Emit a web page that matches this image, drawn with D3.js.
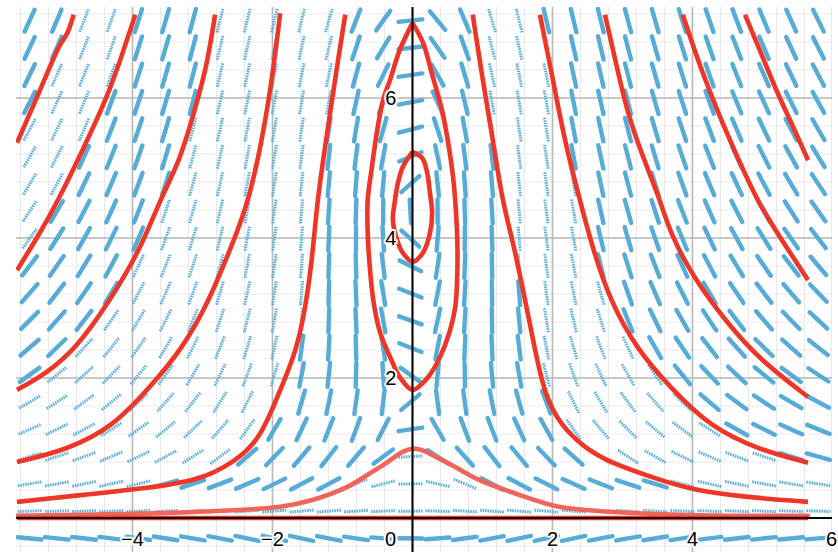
<!DOCTYPE html>
<html><head><meta charset="utf-8">
<script src="https://cdn.jsdelivr.net/npm/d3@7"></script>
<style>html,body{margin:0;padding:0;background:#fff;}svg{display:block}</style>
</head><body>
<svg id="chart" width="838" height="552"></svg>
<script>
// ---------- data ----------
const xTicks = [-4, -2, 0, 2, 4, 6];
const yTicks = [2, 4, 6];
const xDomain = [-5.664, 5.993];
const yDomain = [-0.486, 7.3];
const minorStep = 0.4;

// direction field dy/dx = -x*y / (kA*(y-saddleY)*(y-centerY) + kB*|x|^powerX)
const fieldCols = 30, fieldRows = 20;
const centerY = 4.4, saddleY = 1.8, kA = 1 / 6.8, kB = 1 / 4.5, powerX = 2.5;

// solution curves (data units)
const lensBig = [[0,7.07],[-0.18,6.69],[-0.32,6.26],[-0.42,5.97],[-0.51,5.5],[-0.58,5.01],[-0.64,4.54],[-0.64,4.07],[-0.61,3.59],[-0.56,3.11],[-0.46,2.64],[-0.32,2.3],[-0.18,2.01],[0,1.83],[0.15,1.93],[0.32,2.16],[0.49,2.54],[0.61,3.01],[0.64,3.5],[0.64,3.97],[0.61,4.54],[0.58,4.87],[0.51,5.36],[0.42,5.83],[0.29,6.3],[0.15,6.79],[0,7.07]];
const lensSmall = [[0,5.23],[-0.14,5.01],[-0.22,4.73],[-0.25,4.54],[-0.28,4.26],[-0.22,3.97],[-0.14,3.79],[0,3.66],[0.15,3.79],[0.25,4.07],[0.28,4.36],[0.25,4.64],[0.21,4.93],[0.14,5.14],[0,5.23]];
const curveA = [[0.86,7.19],[1.01,6.21],[1.15,5.4],[1.28,4.54],[1.44,3.93],[1.61,3.11],[1.75,2.4],[1.89,1.76],[2.11,1.33],[2.46,1.0],[2.82,0.79],[3.54,0.54],[4.01,0.4],[4.72,0.3],[5.65,0.23]];
const curveAL = [[-0.96,7.19],[-1.08,6.44],[-1.22,5.5],[-1.36,4.54],[-1.42,3.83],[-1.51,3.11],[-1.65,2.4],[-1.89,1.83],[-2.18,1.11],[-2.56,0.79],[-3.04,0.54],[-3.75,0.43],[-4.71,0.33],[-5.65,0.23]];
const curveR1 = [[1.82,7.19],[2.0,6.3],[2.17,5.4],[2.39,4.54],[2.58,3.83],[2.82,3.11],[3.21,2.4],[3.68,1.87],[4.25,1.3],[4.96,0.97],[5.65,0.79]];
const curveR2 = [[2.75,7.19],[2.92,6.44],[3.06,5.83],[3.25,5.26],[3.54,4.54],[3.68,4.07],[4.01,3.44],[4.49,2.79],[4.96,2.26],[5.65,1.73]];
const curveR3 = [[3.86,7.19],[4.11,6.44],[4.39,5.73],[4.64,5.16],[4.92,4.54],[5.21,4.07],[5.65,3.4]];
const curveR4 = [[4.75,7.19],[4.96,6.69],[5.21,6.07],[5.44,5.59],[5.65,5.11]];
const curveL1 = [[-1.89,7.21],[-2.04,5.97],[-2.32,4.54],[-2.61,3.83],[-2.9,3.11],[-3.3,2.4],[-3.75,1.87],[-4.28,1.3],[-4.94,0.97],[-5.65,0.8]];
const curveL2 = [[-2.82,7.19],[-2.94,6.44],[-3.11,5.83],[-3.32,5.11],[-3.61,4.54],[-3.89,3.83],[-4.32,3.11],[-4.79,2.44],[-5.22,2.07],[-5.65,1.83]];
const curveL3 = [[-3.96,7.19],[-4.14,6.64],[-4.36,6.01],[-4.71,5.26],[-5.06,4.54],[-5.32,4.07],[-5.65,3.54]];
const curveL4 = [[-4.84,7.19],[-4.94,6.87],[-5.02,6.83],[-5.32,6.11],[-5.65,5.36]];
const bump = [[-5.65,0.03],[-3.99,0.06],[-3.04,0.09],[-1.89,0.16],[-1.42,0.26],[-0.94,0.44],[-0.46,0.73],[0,0.99],[0.49,0.79],[0.96,0.54],[1.44,0.36],[2.09,0.16],[2.82,0.09],[4.11,0.04],[5.65,0.03]];
const zeroLine = [[-5.65,0],[5.65,0]];

// ---------- setup ----------
const svg = d3.select('#chart');
const plot = {left: 16, right: 832, top: 7, bottom: 552};
const x = d3.scaleLinear().domain(xDomain).range([plot.left, plot.right]);
const y = d3.scaleLinear().domain(yDomain).range([plot.bottom, plot.top]);

svg.append('defs').append('clipPath').attr('id', 'clip')
  .append('rect').attr('x', plot.left).attr('y', plot.top)
  .attr('width', plot.right - plot.left).attr('height', plot.bottom - plot.top);
const g = svg.append('g').attr('clip-path', 'url(#clip)');

// grid
const minorX = d3.range(Math.ceil(xDomain[0] / minorStep) * minorStep, xDomain[1], minorStep);
const minorY = d3.range(Math.ceil(yDomain[0] / minorStep) * minorStep, yDomain[1], minorStep);
g.selectAll('.mx').data(minorX).join('line')
  .attr('x1', d => x(d)).attr('x2', d => x(d)).attr('y1', plot.top).attr('y2', plot.bottom)
  .attr('stroke', '#e9e9e9').attr('stroke-width', 1.2);
g.selectAll('.my').data(minorY).join('line')
  .attr('y1', d => y(d)).attr('y2', d => y(d)).attr('x1', plot.left).attr('x2', plot.right)
  .attr('stroke', '#e9e9e9').attr('stroke-width', 1.2);
const majorX = d3.range(-4, 6.01, 2), majorY = d3.range(2, 7.01, 2);
g.selectAll('.Mx').data(majorX).join('line')
  .attr('x1', d => x(d)).attr('x2', d => x(d)).attr('y1', plot.top).attr('y2', plot.bottom)
  .attr('stroke', '#b9b9b9').attr('stroke-width', 1.6);
g.selectAll('.My').data(majorY).join('line')
  .attr('y1', d => y(d)).attr('y2', d => y(d)).attr('x1', plot.left).attr('x2', plot.right)
  .attr('stroke', '#b9b9b9').attr('stroke-width', 1.6);

// helpers for region classification (thick vs dotted rendering)
function xAtY(curve, yy, below) {
  const ys = curve.map(p => p[1]);
  const maxY = d3.max(ys), minY = d3.min(ys);
  if (yy >= maxY) { const top = curve.reduce((a, b) => (b[1] > a[1] ? b : a)); return top[0]; }
  if (yy <= minY) return below;
  for (let i = 0; i < curve.length - 1; i++) {
    const a = curve[i], b = curve[i + 1];
    if ((yy - a[1]) * (yy - b[1]) <= 0 && a[1] !== b[1]) {
      const t = (yy - a[1]) / (b[1] - a[1]);
      return a[0] + t * (b[0] - a[0]);
    }
  }
  return below;
}
function bumpY(xx) {
  for (let i = 0; i < bump.length - 1; i++) {
    const a = bump[i], b = bump[i + 1];
    if (xx >= a[0] && xx <= b[0]) return a[1] + (xx - a[0]) / (b[0] - a[0]) * (b[1] - a[1]);
  }
  return 0;
}
function isDotted(xx, yy) {
  if (yy > 0 && yy < 0.2) return true;
  if (yy > 0 && Math.abs(xx) < 2.5 && yy < bumpY(xx)) return true;
  if (xx < 0) {
    const xal = xAtY(curveAL, yy, -Infinity), xl2 = xAtY(curveL2, yy, -Infinity);
    const xl3 = xAtY(curveL3, yy, -Infinity), xl4 = xAtY(curveL4, yy, -Infinity);
    if (xx < xal && xx > xl2 && yy > 0) {
      if (yy < 0.7 && xx > -3.9) return false;
      return true;
    }
    if (xx < xl3 && xx > xl4) return true;
  } else {
    const xa = xAtY(curveA, yy, Infinity), xr1 = xAtY(curveR1, yy, Infinity);
    if (xx > xa && xx < xr1 && yy > 0) return true;
  }
  return false;
}

// direction field
const cellW = (xDomain[1] - xDomain[0]) / fieldCols;
const cellH = (yDomain[1] - yDomain[0]) / fieldRows;
const pts = [];
for (let i = 0; i < fieldCols; i++) {
  for (let j = 0; j < fieldRows; j++) {
    const xx = xDomain[0] + (i + 0.5) * cellW;
    const yy = yDomain[1] - (j + 0.5) * cellH;
    const Q = -xx * yy;
    const P = kA * (yy - saddleY) * (yy - centerY) + kB * Math.pow(Math.abs(xx), powerX);
    pts.push({xx, yy, P, Q, dotted: isDotted(xx, yy)});
  }
}
const half = 12;
function segEnds(d) {
  let dx = x(d.xx + d.P) - x(d.xx), dy = y(d.yy + d.Q) - y(d.yy);
  const n = Math.hypot(dx, dy) || 1;
  dx /= n; dy /= n;
  const cx = x(d.xx), cy = y(d.yy);
  return [cx - dx * half, cy - dy * half, cx + dx * half, cy + dy * half];
}
g.selectAll('.seg').data(pts).join('line')
  .each(function (d) {
    const e = segEnds(d);
    d3.select(this).attr('x1', e[0]).attr('y1', e[1]).attr('x2', e[2]).attr('y2', e[3]);
  })
  .attr('stroke', d => d.dotted ? '#5eb0dc' : '#57acd7')
  .attr('stroke-width', d => d.dotted ? 3 : 4.4)
  .attr('stroke-dasharray', d => d.dotted ? '1.6,0.9' : null)
  .attr('stroke-linecap', d => d.dotted ? 'butt' : 'round');

// solution curves
const smooth = d3.line().x(d => x(d[0])).y(d => y(d[1])).curve(d3.curveBasis);
const through = d3.line().x(d => x(d[0])).y(d => y(d[1])).curve(d3.curveCatmullRom.alpha(0.5));
const openCurves = [zeroLine, curveA, curveAL, curveR1, curveR2, curveR3, curveR4, curveL1, curveL2, curveL3, curveL4];
g.append('path').datum(bump).attr('d', through).attr('fill', 'none')
  .attr('stroke', '#f0645a').attr('stroke-width', 4.6).attr('stroke-linecap', 'round');
g.selectAll('.sol').data(openCurves).join('path')
  .attr('d', smooth).attr('fill', 'none')
  .attr('stroke', '#ee3527').attr('stroke-width', 4.6)
  .attr('stroke-linejoin', 'round');
g.selectAll('.lens').data([lensBig, lensSmall]).join('path')
  .attr('d', through).attr('fill', 'none')
  .attr('stroke', '#ee3527').attr('stroke-width', 4.6)
  .attr('stroke-linejoin', 'round');

// axes
g.append('line').attr('x1', plot.left).attr('x2', plot.right).attr('y1', y(0)).attr('y2', y(0))
  .attr('stroke', '#000').attr('stroke-width', 2);
g.append('line').attr('x1', x(0)).attr('x2', x(0)).attr('y1', plot.top).attr('y2', plot.bottom)
  .attr('stroke', '#000').attr('stroke-width', 2);

// tick labels
const fmt = v => (v < 0 ? '\u2212' + Math.abs(v) : String(v));
const lab = svg.append('g').attr('font-family', '"Liberation Sans", Arial, sans-serif')
  .attr('font-size', 20).attr('fill', '#000')
  .attr('stroke', '#fff').attr('stroke-width', 4).attr('paint-order', 'stroke')
  .attr('stroke-linejoin', 'round');
lab.selectAll('.xl').data(xTicks).join('text')
  .attr('x', d => d === 0 ? x(0) - 22 : (d === 6 ? 837 : x(d)))
  .attr('y', 546)
  .attr('text-anchor', d => d === 6 ? 'end' : 'middle').text(fmt);
lab.selectAll('.yl').data(yTicks).join('text')
  .attr('x', x(0) - 16).attr('y', d => y(d)).attr('dy', '0.36em')
  .attr('text-anchor', 'end').text(fmt);
</script>
</body></html>
